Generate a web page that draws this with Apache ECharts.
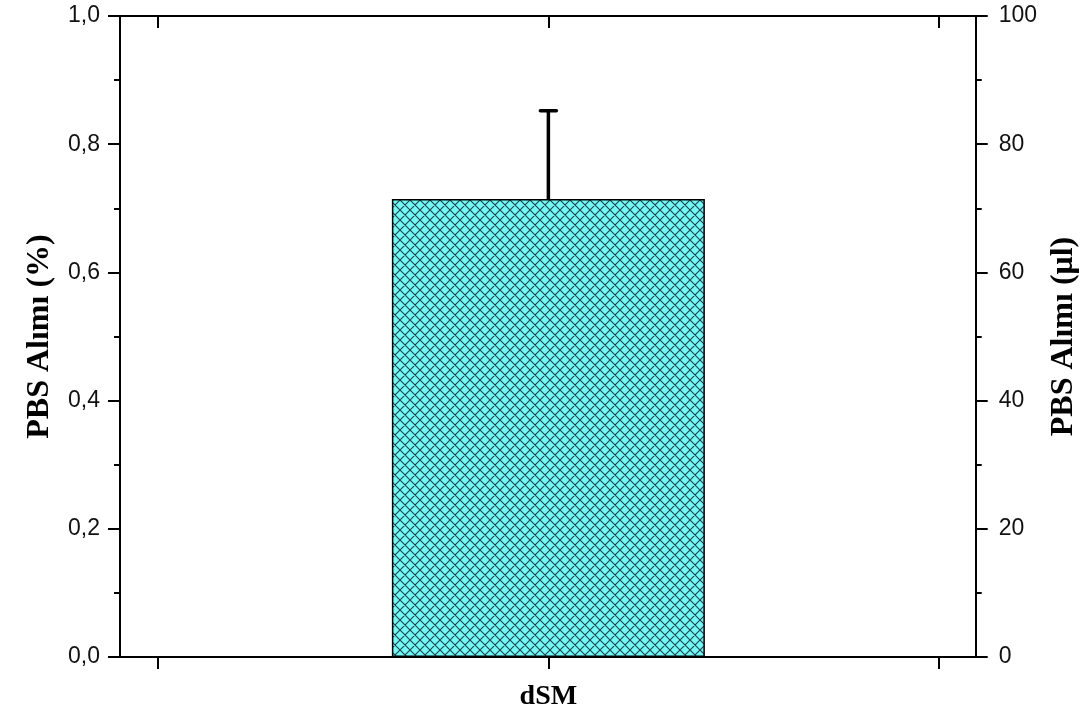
<!DOCTYPE html>
<html>
<head>
<meta charset="utf-8">
<script src="https://cdn.jsdelivr.net/npm/echarts@6/dist/echarts.min.js"></script>
<style>
html,body{margin:0;padding:0;background:#fff;}
#chart{width:1088px;height:720px;}
</style>
</head>
<body>
<div id="chart"></div>
<script>
// ---- data ----
const categories = ['dSM'];
const barValues = [0.7145];          // PBS Alımı (%)
const errorUpper = [0.1378];         // upper error
const leftTicks = [0, 0.2, 0.4, 0.6, 0.8, 1.0];
const rightTicks = [0, 20, 40, 60, 80, 100];
const xTickPositions = [0, 1, 2];
const leftName = 'PBS Alımı (%)';
const rightName = 'PBS Alımı (μl)';

// ---- style ----
const FILL = '#72fbf6';
const HATCH = '#24404e';
const AXIS = '#000';
const serif = "'Liberation Serif', 'Times New Roman', serif";
const sans = "'Liberation Sans', Arial, sans-serif";

function hatchPattern() {
  const p = 10;
  const c = document.createElement('canvas');
  c.width = p; c.height = p;
  const g = c.getContext('2d');
  g.fillStyle = FILL;
  g.fillRect(0, 0, p, p);
  g.strokeStyle = HATCH;
  g.lineWidth = 1.1;
  g.beginPath();
  for (const k of [-p, 0, p]) {
    g.moveTo(-2, -2 + k); g.lineTo(p + 2, p + 2 + k);
    g.moveTo(-2, p + 2 + k); g.lineTo(p + 2, -2 + k);
  }
  g.stroke();
  return c;
}

const barData = categories.map((c, i) => [i + 1, barValues[i]]);
const errData = categories.map((c, i) => [i + 1, barValues[i], errorUpper[i]]);

const xMin = -0.0972, xMax = 2.0946;

const chart = echarts.init(document.getElementById('chart'), null, {renderer: 'canvas'});
const option = {
  animation: false,
  backgroundColor: '#fff',
  grid: {left: 120, right: 111, top: 16, bottom: 63, containLabel: false},
  xAxis: [
    {
      type: 'value', position: 'bottom', min: xMin, max: xMax,
      axisLine: {show: true, onZero: false, lineStyle: {color: AXIS, width: 2}},
      axisTick: {show: true, inside: false, length: 12, lineStyle: {color: AXIS, width: 2}, customValues: xTickPositions},
      axisLabel: {
        show: true, margin: 26, customValues: [1],
        formatter: v => categories[Math.round(v) - 1] || '',
        fontFamily: serif, fontWeight: 'bold', fontSize: 28, color: '#000'
      },
      splitLine: {show: false}
    },
    {
      type: 'value', position: 'top', min: xMin, max: xMax,
      axisLine: {show: true, onZero: false, lineStyle: {color: AXIS, width: 2}},
      axisTick: {show: true, inside: true, length: 12, lineStyle: {color: AXIS, width: 2}, customValues: xTickPositions},
      axisLabel: {show: false},
      splitLine: {show: false}
    }
  ],
  yAxis: [
    {
      type: 'value', position: 'left', min: leftTicks[0], max: leftTicks[leftTicks.length - 1], interval: 0.2,
      name: leftName, nameLocation: 'middle', nameGap: 64, nameRotate: 90,
      nameTextStyle: {fontFamily: serif, fontWeight: 'bold', fontSize: 32, color: '#000'},
      axisLine: {show: true, onZero: false, lineStyle: {color: AXIS, width: 2}},
      axisTick: {show: true, inside: false, length: 12, lineStyle: {color: AXIS, width: 2}},
      minorTick: {show: true, splitNumber: 2, length: 6, lineStyle: {color: AXIS, width: 2}},
      axisLabel: {
        margin: 20, fontFamily: sans, fontSize: 23, color: '#111',
        formatter: v => v.toFixed(1).replace('.', ',')
      },
      splitLine: {show: false}
    },
    {
      type: 'value', position: 'right', min: rightTicks[0], max: rightTicks[rightTicks.length - 1], interval: 20,
      name: rightName, nameLocation: 'middle', nameGap: 70, nameRotate: 90,
      nameTextStyle: {fontFamily: serif, fontWeight: 'bold', fontSize: 32, color: '#000'},
      axisLine: {show: true, onZero: false, lineStyle: {color: AXIS, width: 2}},
      axisTick: {show: true, inside: false, length: 12, lineStyle: {color: AXIS, width: 2}},
      minorTick: {show: true, splitNumber: 2, length: 6, lineStyle: {color: AXIS, width: 2}},
      axisLabel: {margin: 23, fontFamily: sans, fontSize: 23, color: '#111'},
      splitLine: {show: false}
    }
  ],
  series: [
    {
      type: 'bar', xAxisIndex: 0, yAxisIndex: 0, barWidth: 313,
      data: barData,
      itemStyle: {color: {image: hatchPattern(), repeat: 'repeat'}, borderColor: '#000', borderWidth: 1.5},
      z: 2
    },
    {
      type: 'custom', xAxisIndex: 0, yAxisIndex: 0, z: 3,
      data: errData,
      renderItem: function (params, api) {
        const x = api.value(0), y = api.value(1), e = api.value(2);
        const p0 = api.coord([x, y]);
        const p1 = api.coord([x, y + e]);
        const cap = 8;
        return {
          type: 'group',
          children: [
            {type: 'line', shape: {x1: p0[0], y1: p0[1], x2: p1[0], y2: p1[1]}, style: {stroke: '#000', lineWidth: 3.5}},
            {type: 'line', shape: {x1: p1[0] - cap, y1: p1[1], x2: p1[0] + cap, y2: p1[1]}, style: {stroke: '#000', lineWidth: 3.5, lineCap: 'round'}}
          ]
        };
      }
    }
  ]
};
chart.setOption(option);
</script>
</body>
</html>
